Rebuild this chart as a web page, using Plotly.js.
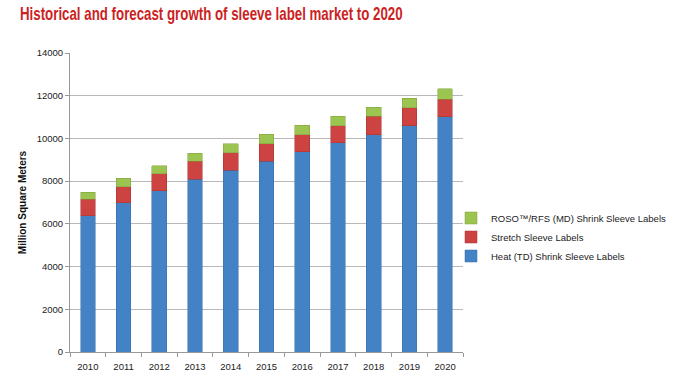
<!DOCTYPE html>
<html>
<head>
<meta charset="utf-8">
<script src="https://cdn.plot.ly/plotly-3.0.1.min.js"></script>
<style>html,body{margin:0;padding:0;background:#fff;}#chart{width:680px;height:380px;}</style>
</head>
<body>
<div id="chart"></div>
<script>
const years = ['2010','2011','2012','2013','2014','2015','2016','2017','2018','2019','2020'];
const heatTD = [6390, 6980, 7550, 8100, 8520, 8930, 9380, 9800, 10170, 10590, 11010];
const stretch = [760, 760, 800, 830, 810, 820, 790, 790, 860, 840, 830];
const rosoMD = [330, 390, 360, 370, 420, 440, 450, 450, 430, 450, 480];
const seriesNames = ['Heat (TD) Shrink Sleeve Labels', 'Stretch Sleeve Labels', 'ROSO\u2122/RFS (MD) Shrink Sleeve Labels'];
const yTicks = [0, 2000, 4000, 6000, 8000, 10000, 12000, 14000];

const font = 'Liberation Sans, Arial, sans-serif';
const mk = (vals, name, color, line) => ({
  type: 'bar', x: years, y: vals, name: name,
  marker: {color: color, line: {color: line, width: 0.5}},
  hoverinfo: 'y'
});
const data = [
  mk(heatTD, seriesNames[0], '#4482c6', '#3a6aa8'),
  mk(stretch, seriesNames[1], '#cd4341', '#a83232'),
  mk(rosoMD, seriesNames[2], '#9cc450', '#7fa03c')
];
// plot area: 70..463 px horizontally
const layout = {
  width: 680, height: 380,
  margin: {l: 70, r: 217, t: 53, b: 28, autoexpand: false},
  paper_bgcolor: '#fff', plot_bgcolor: '#fff',
  barmode: 'stack', bargap: 0.59,
  font: {family: font, size: 10, color: '#333'},
  title: {
    text: 'Historical and forecast growth of sleeve label market to 2020',
    font: {family: font, size: 18, color: '#cc1f1f', weight: 'bold'},
    x: 20 / 680, xref: 'container', xanchor: 'left', y: 1 - 14 / 380, yref: 'container', yanchor: 'middle'
  },
  xaxis: {
    type: 'category', showgrid: false, showline: true, linecolor: '#999', linewidth: 1,
    ticks: 'outside', tickson: 'boundaries', ticklen: 4, tickcolor: '#999', tickangle: 0,
    tickfont: {size: 9.5, color: '#222'}, ticklabelstandoff: 6, fixedrange: true
  },
  yaxis: {
    range: [0, 14000], tickvals: yTicks, ticktext: yTicks.map(String),
    showgrid: true, gridcolor: '#b8b8b8', gridwidth: 1,
    showline: true, linecolor: '#999', ticks: 'outside', ticklen: 4, tickcolor: '#999',
    tickfont: {size: 9.5, color: '#222'}, zeroline: false,
    title: {text: 'Million Square Meters', font: {size: 10, color: '#111', weight: 'bold'}, standoff: 8}
  },
  legend: {
    x: (451 - 70) / 393, xanchor: 'left', y: (352 - 237) / 299, yanchor: 'middle',
    traceorder: 'reversed', font: {size: 9.5, color: '#222'},
    itemwidth: 30, tracegroupgap: 0, bgcolor: 'rgba(0,0,0,0)'
  },
  showlegend: true
};
Plotly.newPlot('chart', data, layout, {displayModeBar: false, staticPlot: true}).then(function () {
  // condense the title horizontally to mimic the narrow original typeface
  const t = document.querySelector('.gtitle');
  if (t) {
    const w = t.getBBox().width;
    const s = 383 / w;
    const x0 = 20;
    t.setAttribute('transform', 'matrix(' + s + ',0,0,1,' + (x0 * (1 - s)) + ',0)');
  }
});
</script>
</body>
</html>
